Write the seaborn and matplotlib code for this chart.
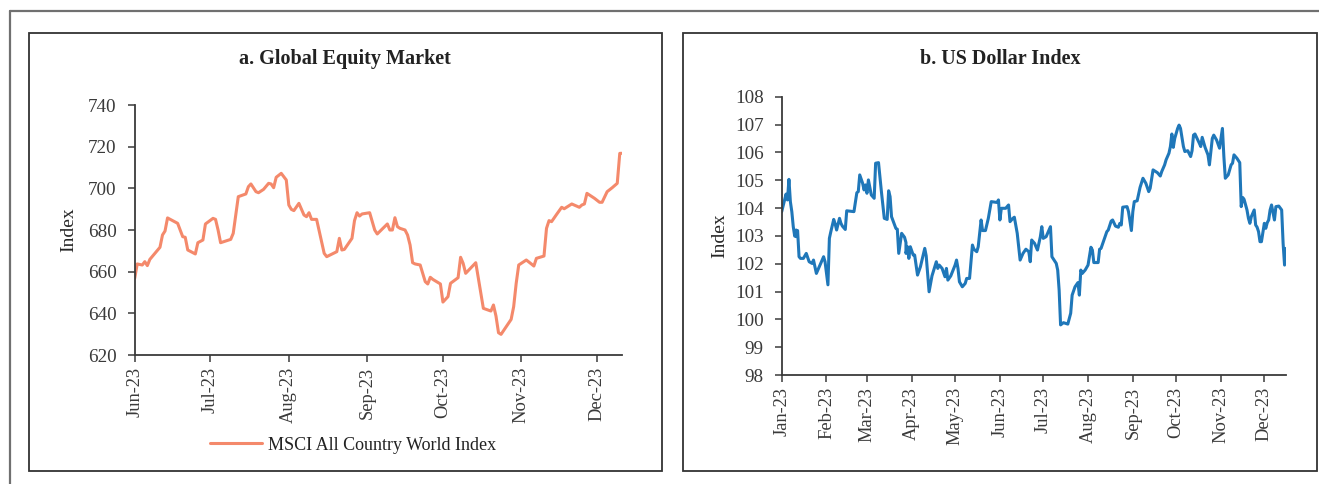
import matplotlib
matplotlib.use("Agg")
import matplotlib.pyplot as plt
import matplotlib.dates as mdates
from matplotlib.patches import Rectangle
from matplotlib.lines import Line2D
import seaborn as sns
import pandas as pd

# ---------------- data: a. Global Equity Market (MSCI ACWI) ----------------
equity_dates = [
    "2023-06-01", "2023-06-02", "2023-06-04", "2023-06-05", "2023-06-06", "2023-06-07",
    "2023-06-11", "2023-06-12", "2023-06-13", "2023-06-14", "2023-06-18", "2023-06-20",
    "2023-06-21", "2023-06-22", "2023-06-25", "2023-06-26", "2023-06-28", "2023-06-29",
    "2023-07-02", "2023-07-03", "2023-07-04", "2023-07-05", "2023-07-09", "2023-07-10",
    "2023-07-12", "2023-07-15", "2023-07-16", "2023-07-17", "2023-07-19", "2023-07-20",
    "2023-07-22", "2023-07-24", "2023-07-25", "2023-07-26", "2023-07-27", "2023-07-29",
    "2023-07-31", "2023-08-01", "2023-08-02", "2023-08-03", "2023-08-05", "2023-08-07",
    "2023-08-08", "2023-08-09", "2023-08-10", "2023-08-12", "2023-08-15", "2023-08-16",
    "2023-08-20", "2023-08-21", "2023-08-22", "2023-08-23", "2023-08-26", "2023-08-27",
    "2023-08-28", "2023-08-29", "2023-08-30", "2023-09-02", "2023-09-04", "2023-09-05",
    "2023-09-09", "2023-09-10", "2023-09-11", "2023-09-12", "2023-09-13", "2023-09-14",
    "2023-09-16", "2023-09-17", "2023-09-18", "2023-09-19", "2023-09-20", "2023-09-22",
    "2023-09-24", "2023-09-25", "2023-09-26", "2023-09-27", "2023-09-30", "2023-10-01",
    "2023-10-03", "2023-10-04", "2023-10-07", "2023-10-08", "2023-10-09", "2023-10-10",
    "2023-10-14", "2023-10-17", "2023-10-20", "2023-10-21", "2023-10-22", "2023-10-23",
    "2023-10-24", "2023-10-28", "2023-10-29", "2023-10-30", "2023-10-31", "2023-11-03",
    "2023-11-05", "2023-11-06", "2023-11-07", "2023-11-10", "2023-11-11", "2023-11-12",
    "2023-11-13", "2023-11-15", "2023-11-17", "2023-11-18", "2023-11-21", "2023-11-24",
    "2023-11-25", "2023-11-26", "2023-11-27", "2023-11-30", "2023-12-02", "2023-12-03",
    "2023-12-05", "2023-12-07", "2023-12-09", "2023-12-10", "2023-12-11",
]
equity_values = [
    656.8, 663.7, 663.2, 664.8, 662.9, 665.9,
    671.7, 677.6, 679.5, 685.8, 683.2, 676.8,
    676.5, 670.4, 668.5, 673.9, 675.2, 682.9,
    685.6, 685.1, 680.0, 673.9, 675.5, 678.4,
    696.0, 697.3, 700.8, 702.1, 698.4, 697.9,
    699.5, 702.4, 702.1, 700.3, 705.3, 707.2,
    704.0, 692.0, 689.9, 689.3, 692.8, 687.2,
    686.4, 688.3, 685.1, 685.1, 668.8, 667.2,
    669.6, 676.0, 670.4, 670.7, 676.0, 684.5,
    688.3, 686.7, 687.7, 688.3, 680.0, 678.1,
    682.9, 680.0, 680.0, 685.9, 681.6, 680.8,
    680.0, 677.6, 672.8, 664.3, 663.7, 663.2,
    655.2, 654.1, 657.3, 656.3, 654.1, 645.4,
    648.0, 654.4, 657.1, 666.9, 664.0, 659.2,
    664.3, 642.4, 641.1, 644.0, 638.7, 630.7,
    629.9, 637.1, 643.2, 654.4, 663.2, 665.6,
    663.7, 662.7, 666.4, 667.5, 680.8, 684.5,
    684.0, 687.5, 690.9, 690.2, 692.5, 690.9,
    692.0, 692.5, 697.6, 695.2, 693.3, 693.3,
    698.4, 700.3, 702.4, 716.8, 716.8,
]
equity_label = "MSCI All Country World Index"

# ---------------- data: b. US Dollar Index ----------------
dxy_dates = [
    "2023-01-01", "2023-01-03", "2023-01-04", "2023-01-05", "2023-01-06", "2023-01-07",
    "2023-01-08", "2023-01-09", "2023-01-10", "2023-01-11", "2023-01-11", "2023-01-12",
    "2023-01-13", "2023-01-14", "2023-01-16", "2023-01-18", "2023-01-20", "2023-01-22",
    "2023-01-23", "2023-01-25", "2023-01-27", "2023-01-30", "2023-01-31", "2023-02-02",
    "2023-02-03", "2023-02-04", "2023-02-06", "2023-02-07", "2023-02-08", "2023-02-10",
    "2023-02-11", "2023-02-12", "2023-02-14", "2023-02-15", "2023-02-20", "2023-02-22",
    "2023-02-23", "2023-02-24", "2023-02-26", "2023-02-27", "2023-02-28", "2023-03-01",
    "2023-03-02", "2023-03-04", "2023-03-06", "2023-03-07", "2023-03-09", "2023-03-11",
    "2023-03-13", "2023-03-15", "2023-03-16", "2023-03-17", "2023-03-18", "2023-03-21",
    "2023-03-22", "2023-03-23", "2023-03-24", "2023-03-25", "2023-03-27", "2023-03-28",
    "2023-03-28", "2023-03-29", "2023-03-30", "2023-03-31", "2023-04-02", "2023-04-03",
    "2023-04-05", "2023-04-07", "2023-04-10", "2023-04-11", "2023-04-13", "2023-04-15",
    "2023-04-18", "2023-04-19", "2023-04-20", "2023-04-22", "2023-04-24", "2023-04-25",
    "2023-04-26", "2023-04-28", "2023-05-01", "2023-05-02", "2023-05-03", "2023-05-04",
    "2023-05-06", "2023-05-08", "2023-05-09", "2023-05-11", "2023-05-13", "2023-05-14",
    "2023-05-16", "2023-05-17", "2023-05-19", "2023-05-20", "2023-05-22", "2023-05-24",
    "2023-05-26", "2023-05-30", "2023-05-31", "2023-06-01", "2023-06-02", "2023-06-05",
    "2023-06-07", "2023-06-08", "2023-06-10", "2023-06-11", "2023-06-13", "2023-06-15",
    "2023-06-17", "2023-06-19", "2023-06-21", "2023-06-22", "2023-06-23", "2023-06-25",
    "2023-06-27", "2023-06-29", "2023-06-30", "2023-07-01", "2023-07-03", "2023-07-06",
    "2023-07-07", "2023-07-10", "2023-07-11", "2023-07-12", "2023-07-13", "2023-07-15",
    "2023-07-18", "2023-07-20", "2023-07-21", "2023-07-23", "2023-07-25", "2023-07-26",
    "2023-07-27", "2023-07-28", "2023-07-30", "2023-08-01", "2023-08-03", "2023-08-04",
    "2023-08-05", "2023-08-08", "2023-08-09", "2023-08-10", "2023-08-12", "2023-08-14",
    "2023-08-15", "2023-08-17", "2023-08-18", "2023-08-20", "2023-08-22", "2023-08-23",
    "2023-08-24", "2023-08-25", "2023-08-28", "2023-08-29", "2023-08-31", "2023-09-01",
    "2023-09-02", "2023-09-04", "2023-09-06", "2023-09-08", "2023-09-10", "2023-09-12",
    "2023-09-13", "2023-09-15", "2023-09-18", "2023-09-20", "2023-09-21", "2023-09-23",
    "2023-09-24", "2023-09-26", "2023-09-27", "2023-09-28", "2023-09-29", "2023-09-30",
    "2023-10-02", "2023-10-03", "2023-10-04", "2023-10-06", "2023-10-07", "2023-10-09",
    "2023-10-11", "2023-10-12", "2023-10-13", "2023-10-14", "2023-10-17", "2023-10-18",
    "2023-10-19", "2023-10-21", "2023-10-23", "2023-10-24", "2023-10-26", "2023-10-27",
    "2023-10-29", "2023-10-31", "2023-11-02", "2023-11-03", "2023-11-04", "2023-11-06",
    "2023-11-08", "2023-11-09", "2023-11-10", "2023-11-12", "2023-11-14", "2023-11-15",
    "2023-11-16", "2023-11-17", "2023-11-19", "2023-11-20", "2023-11-21", "2023-11-22",
    "2023-11-24", "2023-11-25", "2023-11-26", "2023-11-27", "2023-11-28", "2023-11-29",
    "2023-12-01", "2023-12-02", "2023-12-03", "2023-12-04", "2023-12-05", "2023-12-06",
    "2023-12-08", "2023-12-09", "2023-12-11", "2023-12-13", "2023-12-14", "2023-12-15",
    "2023-12-16",
]
dxy_values = [
    103.87, 104.29, 104.50, 104.29, 105.03, 104.23,
    103.87, 103.33, 102.99, 103.21, 102.97, 103.19,
    102.25, 102.19, 102.19, 102.37, 102.07, 102.01,
    102.13, 101.65, 101.89, 102.25, 102.07, 101.24,
    102.91, 103.15, 103.59, 103.43, 103.21, 103.63,
    103.45, 103.35, 103.23, 103.90, 103.87, 104.55,
    104.59, 105.19, 104.89, 104.65, 104.83, 104.53,
    105.01, 104.47, 104.35, 105.61, 105.63, 104.59,
    103.63, 103.59, 104.62, 104.41, 103.69, 103.27,
    103.24, 102.37, 102.73, 103.09, 102.95, 102.76,
    102.37, 102.61, 102.19, 102.61, 102.31, 102.31,
    101.59, 101.89, 102.55, 102.28, 100.99, 101.56,
    102.07, 101.83, 101.95, 101.83, 101.53, 101.83,
    101.41, 101.56, 101.95, 102.13, 101.83, 101.35,
    101.17, 101.29, 101.47, 101.47, 102.67, 102.52,
    102.43, 102.61, 103.57, 103.19, 103.19, 103.63,
    104.23, 104.20, 104.29, 103.57, 103.99, 103.99,
    104.11, 103.51, 103.63, 103.67, 103.09, 102.13,
    102.37, 102.52, 102.43, 102.07, 102.85, 102.73,
    102.49, 102.97, 103.33, 102.91, 102.97, 103.33,
    102.25, 102.01, 101.77, 101.05, 99.80, 99.88,
    99.83, 100.22, 100.87, 101.17, 101.32, 100.87,
    101.77, 101.65, 101.77, 101.95, 102.59, 102.49,
    102.04, 102.04, 102.52, 102.55, 102.85, 103.15,
    103.21, 103.53, 103.57, 103.35, 103.31, 103.45,
    103.39, 104.03, 104.05, 103.87, 103.19, 103.87,
    104.23, 104.26, 104.74, 105.07, 104.89, 104.59,
    104.71, 105.37, 105.27, 105.15, 105.31, 105.55,
    105.73, 105.97, 106.21, 106.66, 106.18, 106.50,
    106.86, 106.98, 106.86, 106.21, 106.03, 106.06,
    105.85, 106.06, 106.62, 106.66, 106.33, 106.21,
    106.54, 106.18, 105.91, 105.55, 106.50, 106.62,
    106.44, 106.15, 106.86, 105.85, 105.07, 105.19,
    105.55, 105.61, 105.91, 105.79, 105.63, 104.05,
    104.38, 104.31, 103.93, 103.63, 103.45, 103.69,
    103.93, 103.39, 103.31, 103.15, 102.79, 102.79,
    103.45, 103.27, 103.47, 103.57, 103.93, 104.11,
    103.57, 104.05, 104.07, 103.93, 102.73, 101.95,
    102.55,
]

equity_ticks = [620, 640, 660, 680, 700, 720, 740]
dxy_ticks = [98, 99, 100, 101, 102, 103, 104, 105, 106, 107, 108]
title_a = "a. Global Equity Market"
title_b = "b. US Dollar Index"
y_label = "Index"

# ---------------- style ----------------
sns.set_style("white")
plt.rcParams["font.family"] = ["Liberation Serif", "DejaVu Serif"]
plt.rcParams["axes.edgecolor"] = "#3a3a3a"
plt.rcParams["xtick.color"] = "#3a3a3a"
plt.rcParams["ytick.color"] = "#3a3a3a"
plt.rcParams["text.color"] = "#222222"

W, H = 1319, 484
fig = plt.figure(figsize=(W / 100, H / 100), dpi=100)


def fx(px):
    return px / W


def fy(py):
    return 1 - py / H


# outer frame (top and left)
fig.add_artist(Line2D([fx(9.5), 1.0], [fy(11), fy(11)], transform=fig.transFigure,
                      color="#707070", lw=1.6))
fig.add_artist(Line2D([fx(9.5), fx(9.5)], [0, fy(11)], transform=fig.transFigure,
                      color="#707070", lw=1.6))
# panel boxes
for x0, x1 in [(29, 661.5), (683.2, 1316.5)]:
    fig.add_artist(Rectangle((fx(x0), fy(470.7)), fx(x1) - fx(x0), fy(33.3) - fy(470.7),
                             transform=fig.transFigure, fill=False,
                             edgecolor="#333333", lw=1.3))

ax1 = fig.add_axes([fx(134.7), fy(355), fx(622.3) - fx(134.7), fy(105) - fy(355)])
ax2 = fig.add_axes([fx(781.7), fy(375), fx(1286) - fx(781.7), fy(96.7) - fy(375)])

df_eq = pd.DataFrame({"date": pd.to_datetime(equity_dates), "value": equity_values})
df_dx = pd.DataFrame({"date": pd.to_datetime(dxy_dates), "value": dxy_values})

sns.lineplot(data=df_eq, x="date", y="value", ax=ax1, estimator=None, sort=False,
             color="#F4896B", lw=2.2, label=equity_label)
sns.lineplot(data=df_dx, x="date", y="value", ax=ax2, estimator=None, sort=False,
             color="#1F77B9", lw=2.2)

ax1.set_xlim(pd.Timestamp("2023-06-01"), pd.Timestamp("2023-12-11"))
ax1.set_ylim(620, 740)
ax1.set_yticks(equity_ticks)
ax2.set_xlim(pd.Timestamp("2023-01-01"), pd.Timestamp("2023-12-16"))
ax2.set_ylim(98, 108)
ax2.set_yticks(dxy_ticks)

for ax, lx in [(ax1, -0.118), (ax2, -0.105)]:
    ax.set_facecolor("none")
    ax.xaxis.set_major_locator(mdates.MonthLocator())
    ax.xaxis.set_major_formatter(mdates.DateFormatter("%b-%y"))
    ax.tick_params(axis="x", rotation=90, labelsize=13.3, length=5, width=1.1,
                   direction="out", bottom=True, pad=3.5)
    ax.tick_params(axis="y", labelsize=13.8, length=5, width=1.1, direction="out",
                   left=True, pad=8)
    for s in ["top", "right"]:
        ax.spines[s].set_visible(False)
    for s in ["left", "bottom"]:
        ax.spines[s].set_linewidth(1.3)
    ax.set_xlabel("")
    ax.set_ylabel(y_label, fontsize=14)
    ax.yaxis.set_label_coords(lx, 0.5)
    ax.grid(False)

leg = ax1.get_legend()
handles, labels = ax1.get_legend_handles_labels()
leg.remove()
fig.legend(handles, labels, loc="center", bbox_to_anchor=(fx(353), fy(445)),
           frameon=False, fontsize=13, handlelength=2.9, handletextpad=0.35)

fig.text(fx(345), fy(59), title_a, ha="center", va="center", fontsize=14.5,
         fontweight="bold")
fig.text(fx(1000), fy(59), title_b, ha="center", va="center", fontsize=14.5,
         fontweight="bold")

fig.savefig("out.png", dpi=100)
